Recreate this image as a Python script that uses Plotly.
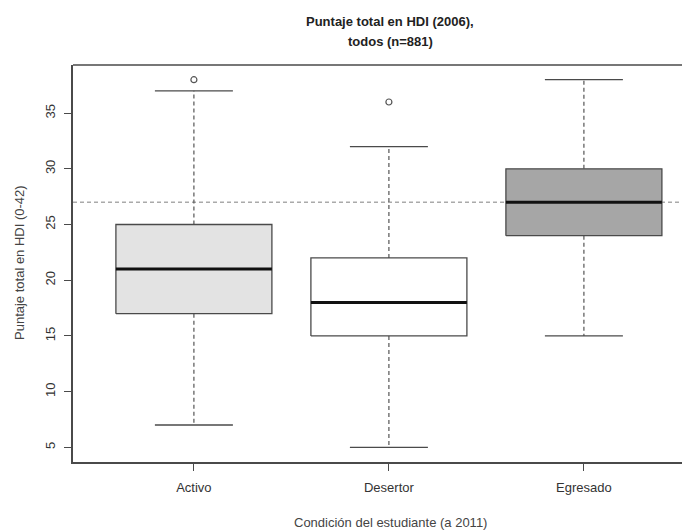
import plotly.graph_objects as go

categories = ["Activo", "Desertor", "Egresado"]
lower_whisker = [7, 5, 15]
q1 = [17, 15, 24]
median = [21, 18, 27]
q3 = [25, 22, 30]
upper_whisker = [37, 32, 38]
outliers = [[38], [36], []]
fill_colors = ["#e3e3e3", "#ffffff", "#a6a6a6"]
ref_value = 27
y_ticks = [5, 10, 15, 20, 25, 30, 35]
title_lines = ["Puntaje total en HDI (2006),", "todos (n=881)"]
x_title = "Condición del estudiante (a 2011)"
y_title = "Puntaje total en HDI (0-42)"

BOXW = 0.8
CAPW = 0.4
BORDER = "#4a4a4a"

# layout geometry (pixels, figure coords; page adds an 8px body margin)
OFF = 8
W, H = 690, 530
L, T, B, RPIX = 73 - OFF, 65 - OFF, 462 - OFF, 690 - OFF
PW, PH = RPIX - L, B - T


def py(ypix):
    return (B - (ypix - OFF)) / PH


def px(xpix):
    return ((xpix - OFF) - L) / PW


fig = go.Figure()

for i, cat in enumerate(categories):
    x = i + 1
    fig.add_trace(go.Scatter(
        x=[x, x, None, x, x],
        y=[q3[i], upper_whisker[i], None, q1[i], lower_whisker[i]],
        mode="lines", line=dict(color="#555555", width=1.2, dash="4px,3px"),
        hoverinfo="skip", showlegend=False))
    fig.add_trace(go.Scatter(
        x=[x - CAPW / 2, x + CAPW / 2, None, x - CAPW / 2, x + CAPW / 2],
        y=[upper_whisker[i], upper_whisker[i], None, lower_whisker[i], lower_whisker[i]],
        mode="lines", line=dict(color=BORDER, width=1.3),
        hoverinfo="skip", showlegend=False))
    fig.add_trace(go.Scatter(
        x=[x - BOXW / 2, x + BOXW / 2, x + BOXW / 2, x - BOXW / 2, x - BOXW / 2],
        y=[q1[i], q1[i], q3[i], q3[i], q1[i]],
        mode="lines", fill="toself", fillcolor=fill_colors[i],
        line=dict(color=BORDER, width=1.3),
        hoverinfo="skip", showlegend=False))
    fig.add_trace(go.Scatter(
        x=[x - BOXW / 2, x + BOXW / 2],
        y=[median[i], median[i]],
        mode="lines", line=dict(color="#111111", width=3),
        hoverinfo="skip", showlegend=False))
    if outliers[i]:
        fig.add_trace(go.Scatter(
            x=[x] * len(outliers[i]), y=outliers[i],
            mode="markers",
            marker=dict(symbol="circle-open", size=6, color="#555555", line=dict(width=1.2)),
            hoverinfo="skip", showlegend=False))

fig.add_shape(type="line", xref="paper", x0=0, x1=1, yref="y", y0=ref_value, y1=ref_value,
              line=dict(color="#aaaaaa", width=1.3, dash="4px,3px"), layer="below")
fig.add_shape(type="line", xref="paper", x0=0, x1=1, yref="paper", y0=1, y1=1,
              line=dict(color=BORDER, width=1.5))

fig.update_layout(
    width=W, height=H,
    margin=dict(l=L, r=W - RPIX, t=T, b=H - B),
    paper_bgcolor="white", plot_bgcolor="white",
    font=dict(family="Liberation Sans, Arial, sans-serif", size=13, color="#333333"),
    xaxis=dict(range=[0.38, 0.38 + PW / 195], tickvals=[1, 2, 3], ticktext=categories,
               showline=True, linecolor=BORDER, linewidth=1.5,
               ticks="outside", ticklen=7, tickcolor=BORDER, tickwidth=1.2,
               showgrid=False, zeroline=False, ticklabelstandoff=6, automargin=False,
               tickfont=dict(size=13, color="#333333")),
    yaxis=dict(range=[3.68, 39.32], tickvals=y_ticks, tickangle=-90,
               showline=True, linecolor=BORDER, linewidth=1.5,
               ticks="outside", ticklen=7, tickcolor=BORDER, tickwidth=1.2,
               showgrid=False, zeroline=False, ticklabelstandoff=4, automargin=False,
               tickfont=dict(size=13, color="#333333")),
)

for txt, ypix in zip(title_lines, [22, 42]):
    fig.add_annotation(text="<b>" + txt + "</b>", xref="paper", yref="paper",
                       x=px(390), y=py(ypix), xanchor="center", yanchor="middle",
                       showarrow=False, font=dict(size=13, color="#222222"))

fig.add_annotation(text=x_title, xref="paper", yref="paper",
                   x=px(390), y=py(522), xanchor="center", yanchor="middle",
                   showarrow=False, font=dict(size=13, color="#444444"))
fig.add_annotation(text=y_title, xref="paper", yref="paper", textangle=-90,
                   x=px(20), y=py(263), xanchor="center", yanchor="middle",
                   showarrow=False, font=dict(size=13, color="#444444"))

fig.write_html("out.html")
